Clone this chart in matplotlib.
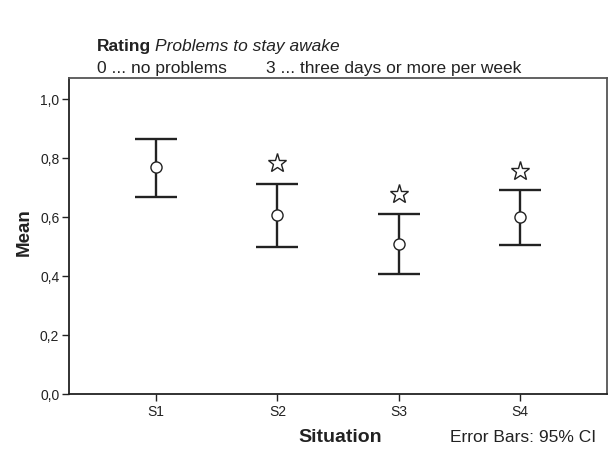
import matplotlib
matplotlib.use("Agg")
import matplotlib.pyplot as plt
from matplotlib.ticker import FuncFormatter

plt.rcParams['font.family'] = ['Liberation Sans', 'DejaVu Sans']

situations = ["S1", "S2", "S3", "S4"]
means = [0.769, 0.607, 0.508, 0.600]
ci_lower = [0.668, 0.498, 0.407, 0.505]
ci_upper = [0.864, 0.712, 0.610, 0.692]
star_values = [None, 0.783, 0.678, 0.756]

fig = plt.figure(figsize=(6.11, 4.56), dpi=100)
W, H = 611, 456
left, right, top, bottom = 69, 607, 79, 395
ax = fig.add_axes([left / W, 1 - bottom / H, (right - left) / W, (bottom - top) / H])

x = list(range(len(situations)))
err_lo = [m - l for m, l in zip(means, ci_lower)]
err_hi = [u - m for m, u in zip(means, ci_upper)]
ax.errorbar(x, means, yerr=[err_lo, err_hi], fmt='none', ecolor='#222222',
            elinewidth=1.7, capsize=15, capthick=1.7)
ax.plot(x, means, 'o', ms=8, mfc='white', mec='#222222', mew=1.0, zorder=3)
for xi, s in zip(x, star_values):
    if s is not None:
        ax.plot(xi, s, '*', ms=14, mfc='white', mec='#222222', mew=1.0, zorder=3)

ax.set_xlim(-0.72, 3.72)
ax.set_ylim(0, (bottom - top) / 295 * 1.0)
ax.set_yticks([0, 0.2, 0.4, 0.6, 0.8, 1.0])
ax.yaxis.set_major_formatter(FuncFormatter(lambda v, p: f"{v:.1f}".replace('.', ',')))
ax.set_xticks(x)
ax.set_xticklabels(situations)
ax.tick_params(axis='both', direction='out', length=5, width=1, color='#222222',
               labelsize=10, labelcolor='#222222', pad=2)

for side in ['left', 'bottom']:
    ax.spines[side].set_color('#222222')
    ax.spines[side].set_linewidth(1.3)
for side in ['top', 'right']:
    ax.spines[side].set_color('#555555')
    ax.spines[side].set_linewidth(1.3)

fig.text(24 / W, 1 - 232 / H, "Mean", rotation=90, fontsize=13.5, fontweight='bold',
         ha='center', va='center', color='#222222')
fig.text(340 / W, 1 - 438 / H, "Situation", fontsize=14, fontweight='bold',
         ha='center', va='center', color='#222222')
fig.text(596 / W, 1 - 438 / H, "Error Bars: 95% CI", fontsize=12.5,
         ha='right', va='center', color='#222222')

t1 = fig.text(97 / W, 1 - 46 / H, "Rating", fontsize=12.5, fontweight='bold',
              ha='left', va='center', color='#222222')
fig.canvas.draw()
bb = t1.get_window_extent()
fig.text((bb.x1 + 4) / W, 1 - 46 / H, "Problems to stay awake", fontsize=12.5,
         fontstyle='italic', ha='left', va='center', color='#222222')
fig.text(97 / W, 1 - 68 / H, "0 ... no problems", fontsize=12.5,
         ha='left', va='center', color='#222222')
fig.text(266 / W, 1 - 68 / H, "3 ... three days or more per week", fontsize=12.5,
         ha='left', va='center', color='#222222')

fig.savefig("out.png", dpi=100)
